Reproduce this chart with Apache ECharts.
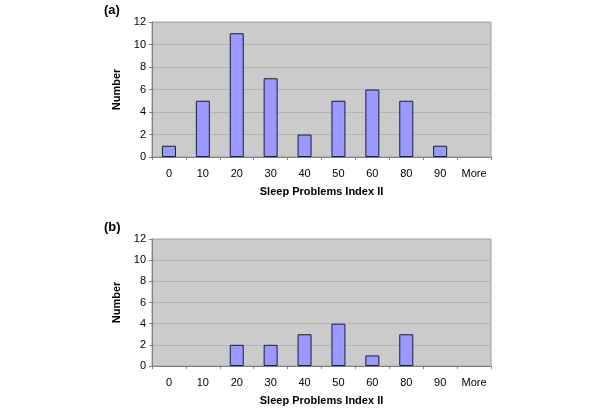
<!DOCTYPE html>
<html><head><meta charset="utf-8">
<script src="https://cdn.jsdelivr.net/npm/echarts@6/dist/echarts.min.js"></script>
<style>html,body{margin:0;padding:0;background:#fff}#c{width:600px;height:412px}</style>
</head><body><div id="c"></div>
<script>
const categories = ['0','10','20','30','40','50','60','80','90','More'];
const valuesA = [1,5,11,7,2,5,6,5,1,0];
const valuesB = [0,0,2,2,3,4,1,3,0,0];
const panelLabels = ['(a)','(b)'];
const xName = 'Sleep Problems Index II';
const yName = 'Number';

const chart = echarts.init(document.getElementById('c'), null, {renderer:'canvas'});
const font = 'Arial, "Liberation Sans", sans-serif';
const grids = [
  {left:152, top:22, width:339, height:135},
  {left:152, top:239, width:339, height:127}
];
function xAxis(i){
  return {type:'category', gridIndex:i, data:categories,
    name:xName, nameLocation:'middle', nameGap:29,
    nameTextStyle:{fontFamily:font, fontWeight:'bold', fontSize:11, color:'#000'},
    axisLine:{lineStyle:{color:'#808080'}},
    axisTick:{show:true, alignWithLabel:false, length:3, lineStyle:{color:'#808080'}},
    axisLabel:{fontFamily:font, fontSize:11, color:'#000', margin:11}};
}
function yAxis(i){
  return {type:'value', gridIndex:i, min:0, max:12, interval:2,
    name:yName, nameLocation:'middle', nameGap:26,
    nameTextStyle:{fontFamily:font, fontWeight:'bold', fontSize:11, color:'#000'},
    axisLine:{show:true, lineStyle:{color:'#808080'}},
    axisTick:{show:true, length:3, lineStyle:{color:'#808080'}},
    axisLabel:{fontFamily:font, fontSize:11, color:'#000', margin:6},
    splitLine:{lineStyle:{color:'#b4b4b4'}}};
}
function series(i, vals){
  return {type:'bar', xAxisIndex:i, yAxisIndex:i, data:vals.map(v => v === 0 ? '-' : v), barWidth:14,
    itemStyle:{color:'#9999ff', borderColor:'#1a1a40', borderWidth:1}};
}
chart.setOption({
  animation:false,
  graphic:[
    {type:'text', left:104, top:4, style:{text:panelLabels[0], font:'bold 13px Arial, "Liberation Sans", sans-serif', fill:'#000'}},
    {type:'text', left:104, top:221, style:{text:panelLabels[1], font:'bold 13px Arial, "Liberation Sans", sans-serif', fill:'#000'}}
  ],
  grid: grids.map(g => Object.assign({show:true, backgroundColor:'#cbcbcb', borderColor:'#a0a0a0', borderWidth:1}, g)),
  xAxis:[xAxis(0), xAxis(1)],
  yAxis:[yAxis(0), yAxis(1)],
  series:[series(0, valuesA), series(1, valuesB)]
});
</script></body></html>
